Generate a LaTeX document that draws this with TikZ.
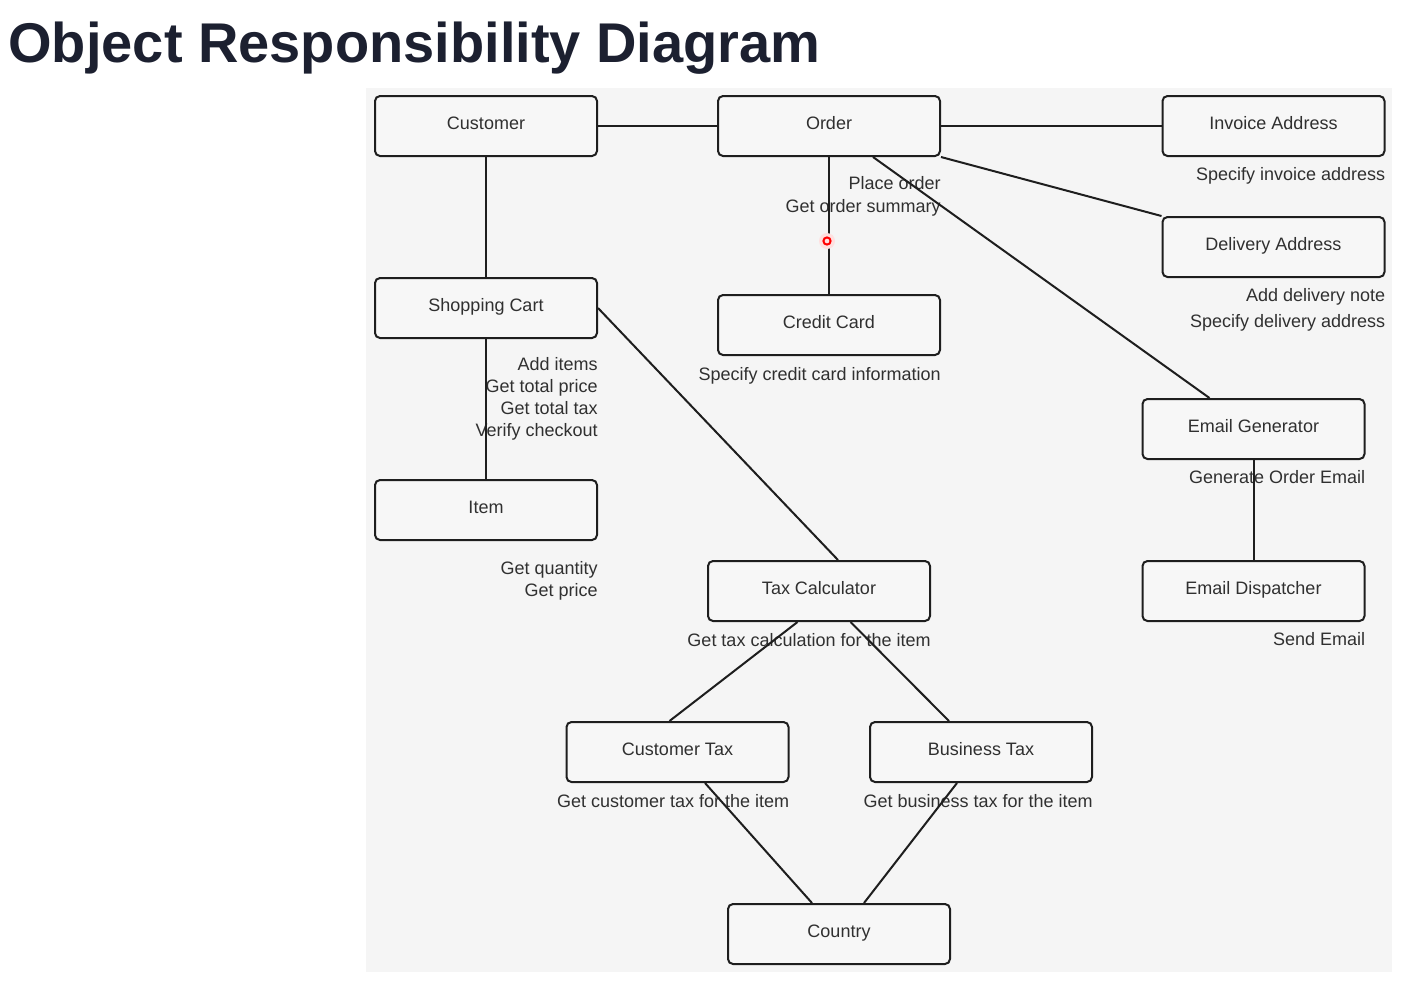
\documentclass[tikz,border=0pt]{standalone}
\usepackage{fontspec}
\setmainfont{Liberation Sans}
\usetikzlibrary{positioning}
\definecolor{panelgray}{HTML}{F5F5F5}
\definecolor{boxfill}{HTML}{F7F7F7}
\definecolor{inkgray}{HTML}{1E1E1E}
\definecolor{textgray}{HTML}{303030}
\definecolor{titleink}{HTML}{1C2030}
\tikzset{
	object/.style = {draw = inkgray, fill = boxfill, line width = 1pt, rounded corners = 2.5pt, minimum width = 111pt, minimum height = 30pt, inner sep = 0pt, text height = 6.5pt, text depth = 3pt, text = textgray, font = \fontsize{9}{11}\selectfont},
	duty/.style = {align = right, inner sep = 0pt, text = textgray, font = \fontsize{9}{11}\selectfont},
	link/.style = {draw = inkgray, line width = 1pt}
}

\begin{document}
\begin{tikzpicture}[x = 0.5pt, y = -0.5pt]
	\useasboundingbox (0, 0) rectangle (1410, 993);
	\fill [panelgray] (366, 88) rectangle (1392, 972);
	\node [anchor = base west, inner sep = 0pt, text = titleink, font = \fontsize{28}{34}\selectfont\bfseries] (title) at (8, 62) {Object Responsibility Diagram};

	\node [object] (customer) at (486, 126) {Customer};
	\node [object] (order) at (829, 126) {Order};
	\node [object] (invoice) at (1273.5, 126) {Invoice Address};
	\node [object] (delivery) at (1273.5, 247) {Delivery Address};
	\node [object] (cart) at (486, 308) {Shopping Cart};
	\node [object] (card) at (829, 325) {Credit Card};
	\node [object] (mailgen) at (1253.5, 429) {Email Generator};
	\node [object] (item) at (486, 510) {Item};
	\node [object] (taxcalc) at (819, 591) {Tax Calculator};
	\node [object] (mailsend) at (1253.5, 591) {Email Dispatcher};
	\node [object] (custtax) at (677.5, 752) {Customer Tax};
	\node [object] (bustax) at (981, 752) {Business Tax};
	\node [object] (country) at (839, 934) {Country};

	\node [duty, font = \fontsize{9}{11.5}\selectfont, below left = 9.5pt and 0pt of order.south east] (ordernote) {Place order\\Get order summary};
	\node [duty, below left = 5pt and 0pt of invoice.south east] (invoicenote) {Specify invoice address};
	\node [duty, font = \fontsize{9}{13}\selectfont, below left = 5pt and 0pt of delivery.south east] (deliverynote) {Add delivery note\\Specify delivery address};
	\node [duty, below left = 5.5pt and 0pt of card.south east] (cardnote) {Specify credit card information};
	\node [duty, below left = 9pt and 0pt of cart.south east] (cartnote) {Add items\\Get total price\\Get total tax\\Verify checkout};
	\node [duty, below left = 5pt and 0pt of mailgen.south east] (mailgennote) {Generate Order Email};
	\node [duty, below left = 10pt and 0pt of item.south east] (itemnote) {Get quantity\\Get price};
	\node [duty, below left = 5pt and 0pt of mailsend.south east] (mailsendnote) {Send Email};
	\node [duty, below left = 5.5pt and 0pt of taxcalc.south east] (taxcalcnote) {Get tax calculation for the item};
	\node [duty, below left = 5.5pt and 0pt of custtax.south east] (custtaxnote) {Get customer tax for the item};
	\node [duty, below left = 5.5pt and 0pt of bustax.south east] (bustaxnote) {Get business tax for the item};

	\draw [link] (customer) -- (order);
	\draw [link] (order) -- (invoice);
	\draw [link] (customer) -- (cart);
	\draw [link] (order) -- (card);
	\draw [link] (order.south east) -- (delivery.north west);
	\draw [link] ([xshift = 22pt] order.south) -- ([xshift = -22pt] mailgen.north);
	\draw [link] (cart) -- (item);
	\draw [link] (cart.east) -- ([xshift = 9.5pt] taxcalc.north);
	\draw [link] (mailgen) -- (mailsend);
	\draw [link] ([xshift = -10.75pt] taxcalc.south) -- ([xshift = -4pt] custtax.north);
	\draw [link] ([xshift = 15.75pt] taxcalc.south) -- ([xshift = -16pt] bustax.north);
	\draw [link] ([xshift = 13.75pt] custtax.south) -- ([xshift = -13.5pt] country.north);
	\draw [link] ([xshift = -12pt] bustax.south) -- ([xshift = 12.5pt] country.north);

	\fill [red!12] (827, 241) circle [radius = 4pt];
	\draw [red, line width = 1pt] (827, 241) circle [radius = 1.8pt];
\end{tikzpicture}
\end{document}
